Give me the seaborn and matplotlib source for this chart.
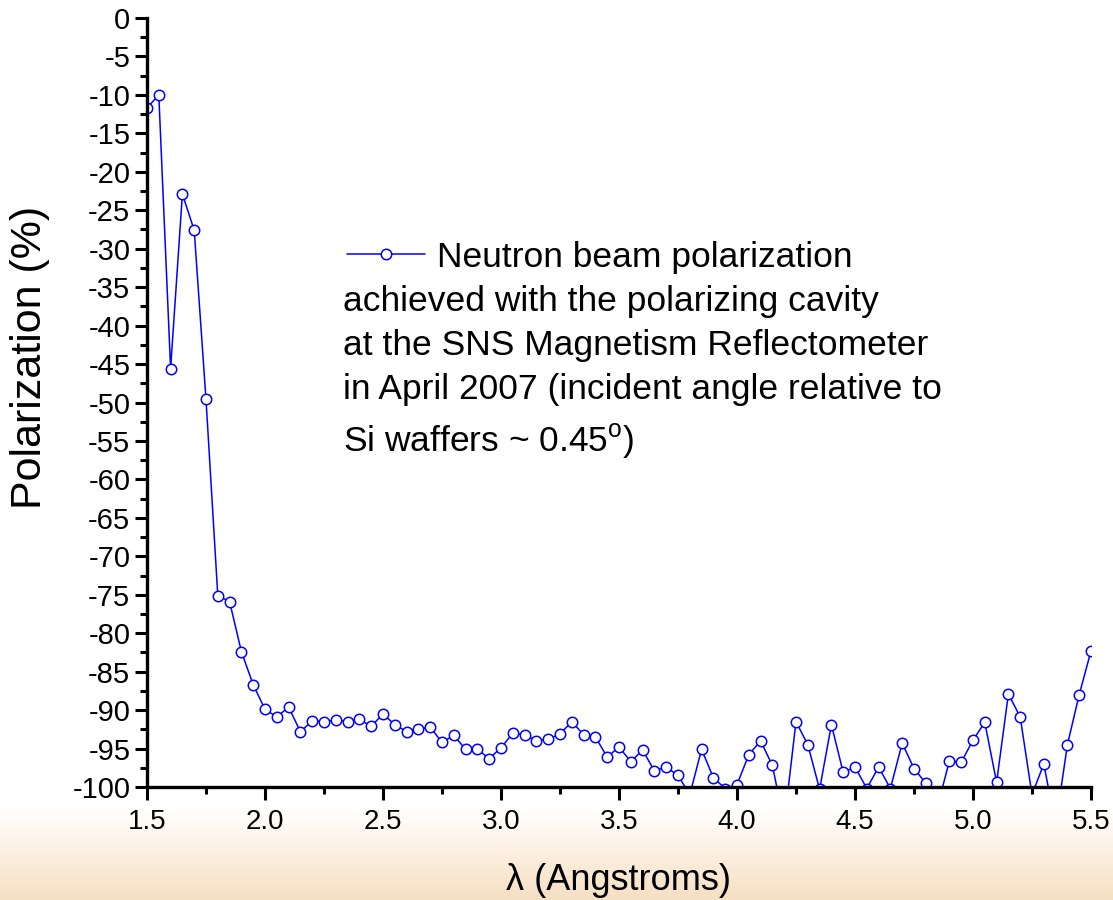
import numpy as np
import pandas as pd
import matplotlib
matplotlib.use("Agg")
import matplotlib.pyplot as plt
from matplotlib.ticker import MultipleLocator, FormatStrFormatter
from matplotlib.colors import LinearSegmentedColormap
import seaborn as sns

# ---------------- data ----------------
wavelength = [1.50, 1.55, 1.60, 1.65, 1.70, 1.75, 1.80, 1.85, 1.90, 1.95,
              2.00, 2.05, 2.10, 2.15, 2.20, 2.25, 2.30, 2.35, 2.40, 2.45,
              2.50, 2.55, 2.60, 2.65, 2.70, 2.75, 2.80, 2.85, 2.90, 2.95,
              3.00, 3.05, 3.10, 3.15, 3.20, 3.25, 3.30, 3.35, 3.40, 3.45,
              3.50, 3.55, 3.60, 3.65, 3.70, 3.75, 3.80, 3.85, 3.90, 3.95,
              4.00, 4.05, 4.10, 4.15, 4.20, 4.25, 4.30, 4.35, 4.40, 4.45,
              4.50, 4.55, 4.60, 4.65, 4.70, 4.75, 4.80, 4.85, 4.90, 4.95,
              5.00, 5.05, 5.10, 5.15, 5.20, 5.25, 5.30, 5.35, 5.40, 5.45,
              5.50]
polarization = [-11.7, -10.0, -45.6, -22.9, -27.6, -49.6, -75.1, -75.9, -82.4, -86.7,
                -89.9, -90.9, -89.6, -92.8, -91.4, -91.5, -91.3, -91.5, -91.2, -92.1,
                -90.5, -91.9, -92.8, -92.5, -92.2, -94.2, -93.3, -95.1, -95.1, -96.3,
                -94.9, -93.0, -93.2, -94.0, -93.8, -93.1, -91.5, -93.2, -93.5, -96.1,
                -94.8, -96.7, -95.2, -97.9, -97.4, -98.5, -101.0, -95.1, -98.8, -100.2,
                -99.7, -95.8, -94.0, -97.2, -104.7, -91.5, -94.5, -100.3, -91.9, -98.1,
                -97.4, -100.2, -97.4, -100.2, -94.3, -97.6, -99.5, -102.5, -96.6, -96.8,
                -93.9, -91.6, -99.4, -87.9, -90.9, -101.0, -97.0, -105.0, -94.5, -88.0,
                -82.3]

x_label = "\u03bb (Angstroms)"
y_label = "Polarization (%)"
legend_label = "Neutron beam polarization"
note_lines = ["achieved with the polarizing cavity",
              "at the SNS Magnetism Reflectometer",
              "in April 2007 (incident angle relative to",
              r"Si waffers ~ 0.45$^{\mathrm{o}}$)"]

df = pd.DataFrame({"wavelength": wavelength, "polarization": polarization})

# ---------------- style ----------------
sns.set_style("ticks")
plt.rcParams["font.family"] = ["Liberation Sans", "DejaVu Sans"]
plt.rcParams["mathtext.fontset"] = "custom"
plt.rcParams["mathtext.rm"] = "Liberation Sans"
plt.rcParams["mathtext.it"] = "Liberation Sans:italic"
plt.rcParams["text.color"] = "black"
plt.rcParams["axes.labelcolor"] = "black"
plt.rcParams["xtick.color"] = "black"
plt.rcParams["ytick.color"] = "black"

fig = plt.figure(figsize=(11.13, 9.0), dpi=100)

# soft warm background band at the bottom
bg = fig.add_axes([0, 0, 1, 1], zorder=-10)
grad = np.linspace(0, 1, 300).reshape(-1, 1)
cmap = LinearSegmentedColormap.from_list(
    "warm", [(0.0, "#ffffff"), (0.90, "#ffffff"), (0.95, "#fcf0e2"), (1.0, "#f6e0c4")])
bg.imshow(grad, aspect="auto", cmap=cmap, extent=[0, 1, 0, 1], origin="upper")
bg.set_axis_off()

ax = fig.add_axes([147 / 1113, 1 - 787 / 900, 944 / 1113, 769 / 900])
ax.set_facecolor("white")

blue = "#0000ff"
sns.lineplot(data=df, x="wavelength", y="polarization", ax=ax, color=blue,
             linewidth=1.1, marker="o", markersize=7.5, markerfacecolor="white",
             markeredgecolor=blue, markeredgewidth=1.1, legend=False)

ax.set_xlim(1.5, 5.5)
ax.set_ylim(-100, 0)

ax.xaxis.set_major_locator(MultipleLocator(0.5))
ax.xaxis.set_minor_locator(MultipleLocator(0.25))
ax.xaxis.set_major_formatter(FormatStrFormatter("%.1f"))
ax.yaxis.set_major_locator(MultipleLocator(5))
ax.yaxis.set_minor_locator(MultipleLocator(2.5))
ax.yaxis.set_major_formatter(FormatStrFormatter("%d"))

ax.tick_params(which="major", direction="out", length=9, width=2.2,
               color="black", labelcolor="black")
ax.tick_params(axis="x", which="major", pad=7, labelsize=20)
ax.tick_params(axis="y", which="major", pad=3, labelsize=21)
ax.tick_params(which="minor", direction="out", length=5, width=2.2, color="black")

for side in ["top", "right"]:
    ax.spines[side].set_visible(False)
for side in ["left", "bottom"]:
    ax.spines[side].set_linewidth(2.4)
    ax.spines[side].set_color("black")

ax.set_xlabel(x_label, fontsize=26, va="center")
ax.xaxis.set_label_coords(0.5, (787 - 880) / 769)
ax.set_ylabel(y_label, fontsize=31, va="center")
ax.yaxis.set_label_coords((30 - 147) / 944, (787 - 357) / 769)

line = ax.lines[0]
line.set_label(legend_label)
leg = ax.legend(handles=[line], loc="center left",
                bbox_to_anchor=((347 - 147) / 944, (787 - 257) / 769),
                frameon=False, fontsize=25.5, handlelength=2.2, handletextpad=0.35,
                borderpad=0, borderaxespad=0, numpoints=1)
for t in leg.get_texts():
    t.set_color("black")

baselines = [311, 355, 399, 451]
for txt, yb in zip(note_lines, baselines):
    ax.text((343 - 147) / 944, (787 - yb) / 769, txt, transform=ax.transAxes,
            fontsize=25.5, va="baseline", ha="left", color="black")

fig.savefig("out.png", dpi=100)
